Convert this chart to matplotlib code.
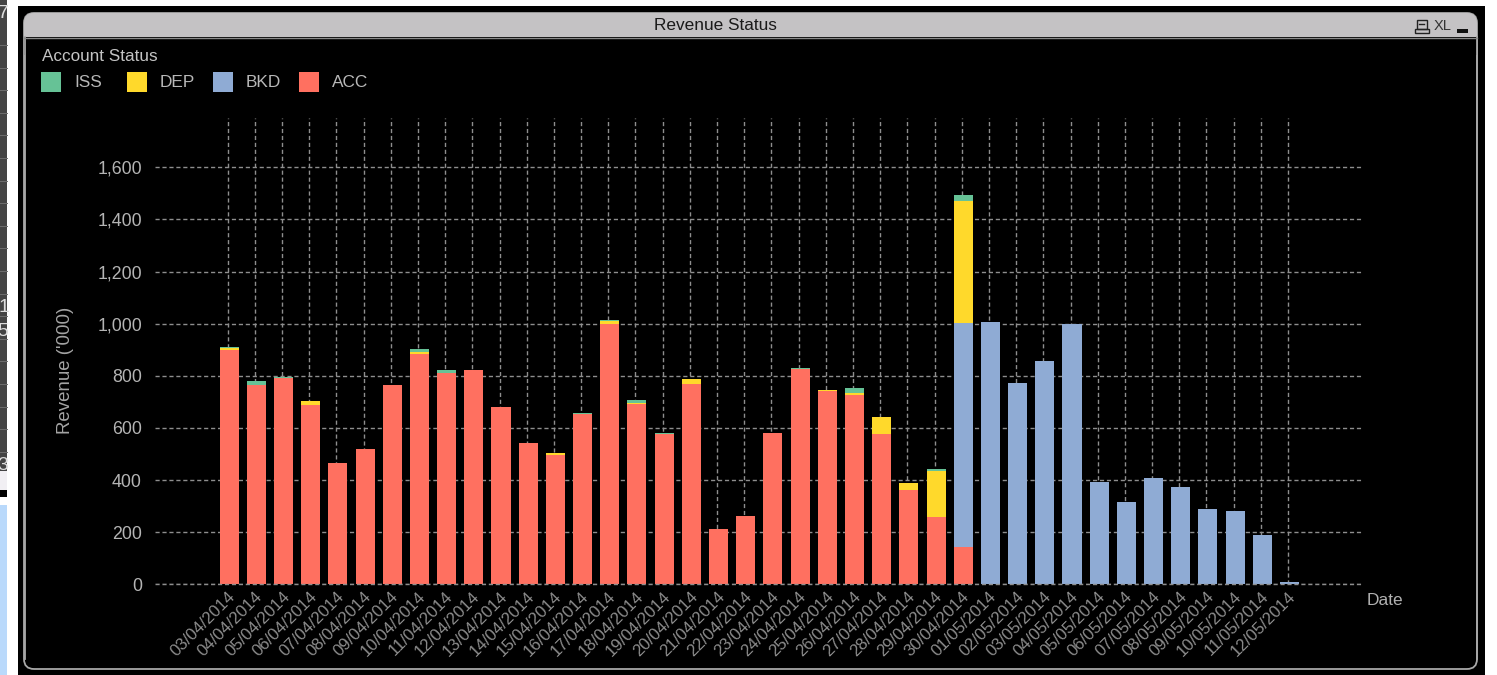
import matplotlib
matplotlib.use("Agg")
import matplotlib.pyplot as plt
from matplotlib.patches import FancyBboxPatch, Rectangle
from matplotlib.transforms import ScaledTranslation
import numpy as np

plt.rcParams['font.family'] = ['Liberation Sans', 'DejaVu Sans']

dates = ["03/04/2014", "04/04/2014", "05/04/2014", "06/04/2014", "07/04/2014",
         "08/04/2014", "09/04/2014", "10/04/2014", "11/04/2014", "12/04/2014",
         "13/04/2014", "14/04/2014", "15/04/2014", "16/04/2014", "17/04/2014",
         "18/04/2014", "19/04/2014", "20/04/2014", "21/04/2014", "22/04/2014",
         "23/04/2014", "24/04/2014", "25/04/2014", "26/04/2014", "27/04/2014",
         "28/04/2014", "29/04/2014", "30/04/2014", "01/05/2014", "02/05/2014",
         "03/05/2014", "04/05/2014", "05/05/2014", "06/05/2014", "07/05/2014",
         "08/05/2014", "09/05/2014", "10/05/2014", "11/05/2014", "12/05/2014"]

acc = [900, 763, 792, 686, 465, 520, 763, 885, 811, 823,
       681, 543, 497, 654, 998, 690, 577, 769, 211, 261,
       581, 825, 742, 728, 576, 363, 259, 143, 0, 0,
       0, 0, 0, 0, 0, 0, 0, 0, 0, 0]
bkd = [0, 0, 0, 0, 0, 0, 0, 0, 0, 0,
       0, 0, 0, 0, 0, 0, 0, 0, 0, 0,
       0, 0, 0, 0, 0, 0, 0, 859, 1007, 772,
       855, 999, 393, 316, 408, 375, 287, 281, 189, 8]
dep = [6, 0, 0, 16, 0, 0, 0, 6, 0, 0,
       0, 0, 7, 0, 12, 7, 0, 20, 0, 0,
       0, 0, 4, 7, 66, 26, 174, 469, 0, 0,
       0, 0, 0, 0, 0, 0, 0, 0, 0, 0]
iss = [5, 16, 5, 0, 0, 0, 0, 10, 12, 0,
       0, 0, 0, 4, 5, 11, 4, 0, 0, 0,
       0, 4, 0, 17, 0, 0, 9, 22, 0, 0,
       0, 0, 0, 0, 0, 0, 0, 0, 0, 0]

yticks = [0, 200, 400, 600, 800, 1000, 1200, 1400, 1600]
legend_names = ["ISS", "DEP", "BKD", "ACC"]
legend_colors = ["#66c296", "#ffd92b", "#8fabd4", "#ff7060"]

W, H = 1497, 675
fig = plt.figure(figsize=(W / 100, H / 100), dpi=100, facecolor="white")

# screenshot furniture, in pixel coordinates
bg = fig.add_axes([0, 0, 1, 1])
bg.set_xlim(0, W)
bg.set_ylim(H, 0)
bg.axis("off")
bg.add_patch(Rectangle((18, 6), 1467, 669, fc="black", ec="none"))
bg.add_patch(Rectangle((0, 0), 7, 471, fc="#444444", ec="none"))
bg.add_patch(Rectangle((0, 471), 7, 19, fc="#f1eff3", ec="none"))
bg.add_patch(Rectangle((0, 490), 7, 7, fc="black", ec="none"))
bg.add_patch(Rectangle((0, 505), 7, 170, fc="#b9d9fb", ec="none"))
for py in np.arange(45, 465, 22.6):
    bg.plot([0, 7], [py, py], color="#6e6e6e", lw=0.7)
for label, px, py in [("7", 3, 13), ("1", 4, 308), ("5", 3, 331), ("3", 3, 465)]:
    t = bg.text(px, py, label, color="#dddddd", fontsize=14, ha="center", va="center")
    t.set_clip_path(Rectangle((0, 0), 7, 490, transform=bg.transData))

# rounded panel with grey title bar
bg.add_patch(FancyBboxPatch((24, 13), 1453, 656, boxstyle="round,pad=0,rounding_size=10",
                            fc="black", ec="#a8a8a8", lw=1.3))
title_bar = FancyBboxPatch((24, 13), 1453, 40, boxstyle="round,pad=0,rounding_size=10",
                           fc="#c4c2c4", ec="none")
bg.add_patch(title_bar)
bg.add_patch(Rectangle((24, 37), 1453, 18, fc="black", ec="none"))
bg.plot([24.5, 24.5], [37, 659], color="#a8a8a8", lw=1.3)
bg.plot([1476.5, 1476.5], [37, 659], color="#a8a8a8", lw=1.3)
bg.plot([24, 1477], [37.5, 37.5], color="#8a8a8a", lw=1)
bg.text(715.5, 26, "Revenue Status", color="#1a1a1a", fontsize=12.4, ha="center", va="center")
bg.add_patch(Rectangle((1417, 20), 10, 9, fc="none", ec="#222222", lw=1))
bg.plot([1419, 1424], [24, 24], color="#222222", lw=1)
bg.add_patch(Rectangle((1415, 29), 14, 4, fc="none", ec="#222222", lw=1))
bg.text(1443, 25.5, "XL", color="#333333", fontsize=10.5, ha="center", va="center")
bg.add_patch(Rectangle((1457, 29), 11, 4, fc="#111111", ec="none"))

# legend
bg.text(42, 56.5, "Account Status", color="#c4c4c4", fontsize=12.3, ha="left", va="center")
for i, (name, col) in enumerate(zip(legend_names, legend_colors)):
    x0 = 41 + i * 85.9
    bg.add_patch(Rectangle((x0, 72), 20, 20, fc=col, ec="none"))
    bg.text(x0 + 33, 82.5, name, color="#b8b8b8", fontsize=12.4, ha="left", va="center")

# chart
ax = fig.add_axes([155 / W, 1 - 584.3 / H, (1362 - 155) / W, (584.3 - 118) / H])
ax.set_facecolor("none")
x = np.arange(len(dates))
bar_x = x + 0.055
acc = np.array(acc)
bkd = np.array(bkd)
dep = np.array(dep)
iss = np.array(iss)
w = 0.7
ax.bar(bar_x, acc, w, color=legend_colors[3], zorder=3)
ax.bar(bar_x, bkd, w, bottom=acc, color=legend_colors[2], zorder=3)
ax.bar(bar_x, dep, w, bottom=acc + bkd, color=legend_colors[1], zorder=3)
ax.bar(bar_x, iss, w, bottom=acc + bkd + dep, color=legend_colors[0], zorder=3)

ax.set_xlim(-2.67, 41.72)
ax.set_ylim(0, 1789)
ax.set_yticks(yticks)
ax.set_yticklabels([f"{v:,}" for v in yticks], color="#b4b4b4", fontsize=12.8)
ax.set_xticks(x)
ax.set_xticklabels(dates, rotation=45, ha="right", va="top", rotation_mode="anchor",
                   color="#8c8c8c", fontsize=12.1)
shift = ScaledTranslation(-1 / 100, 0, fig.dpi_scale_trans)
for lab in ax.get_xticklabels():
    lab.set_transform(lab.get_transform() + shift)
ax.tick_params(axis="both", length=0)
ax.tick_params(axis="y", pad=9.4)
ax.tick_params(axis="x", pad=3)
ax.grid(True, color="#8e8e8e", linestyle=(0, (3, 2)), linewidth=1, zorder=0)
ax.set_axisbelow(True)
for s in ax.spines.values():
    s.set_visible(False)
bg.text(66, 370, "Revenue ('000)", color="#a4a4a4", fontsize=13.4, rotation=90,
        ha="center", va="center")
bg.text(1367, 600.5, "Date", color="#b0b0b0", fontsize=12.5, ha="left", va="center")

# the zero line sits on top of the bar bases
ax.axhline(0, color="#8e8e8e", linestyle=(0, (3, 2)), linewidth=1, zorder=4, clip_on=False)

fig.savefig("out.png", dpi=100, facecolor="white")
plt.close(fig)
